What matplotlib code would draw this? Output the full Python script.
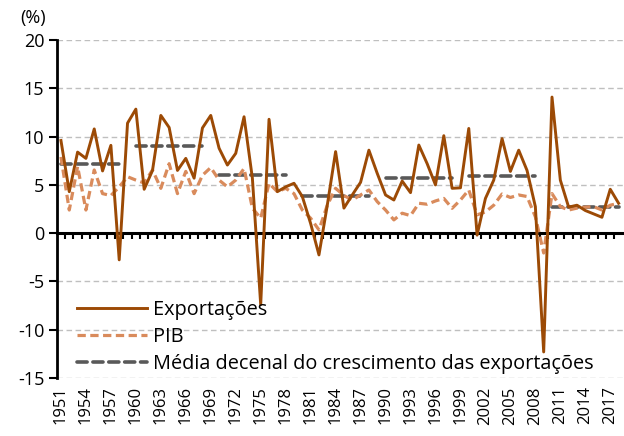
import numpy as np
import matplotlib
matplotlib.use("Agg")
import matplotlib.pyplot as plt
from matplotlib.lines import Line2D

plt.rcParams['font.family'] = ['Open Sans', 'DejaVu Sans']

years = list(range(1951, 2019))

exportacoes = [9.6, 4.3, 8.4, 7.75, 10.8, 6.45, 9.1, -2.76, 11.4, 12.85,
               4.55, 6.5, 12.2, 10.95, 6.5, 7.75, 5.7, 10.9, 12.2, 8.8,
               7.06, 8.27, 12.06, 5.7, -7.4, 11.8, 4.3, 4.8, 5.17, 3.8,
               1.0, -2.25, 2.9, 8.45, 2.6, 3.96, 5.27, 8.6, 6.2, 3.96,
               3.44, 5.4, 4.2, 9.13, 7.2, 5.0, 10.1, 4.65, 4.7, 10.85,
               -0.2, 3.6, 5.5, 9.8, 6.4, 8.6, 6.5, 2.75, -12.3, 14.1,
               5.5, 2.7, 2.9, 2.35, 2.0, 1.65, 4.55, 3.1]

pib = [7.9, 2.4, 6.9, 2.4, 6.55, 4.1, 3.9, 4.8, 5.85, 5.5,
       5.2, 6.55, 4.65, 7.2, 4.1, 6.4, 4.1, 6.0, 6.8, 5.5,
       4.8, 5.5, 6.7, 2.6, 1.55, 5.17, 4.3, 4.65, 4.1, 2.4,
       1.55, 0.34, 2.9, 4.65, 3.9, 3.44, 3.96, 4.48, 3.27, 2.4,
       1.38, 2.07, 1.82, 3.1, 3.0, 3.34, 3.6, 2.58, 3.44, 4.48,
       1.9, 2.2, 2.9, 4.06, 3.7, 3.96, 3.8, 1.7, -2.05, 4.1,
       2.75, 2.4, 2.6, 2.7, 2.75, 2.4, 2.9, 3.1]

decada_inicio = [1951, 1960, 1970, 1980, 1990, 2000, 2010]
decada_fim = [1958, 1968, 1978, 1988, 1998, 2008, 2018]
decada_media = [7.2, 9.0, 6.0, 3.9, 5.75, 5.9, 2.7]

rotulos_x = list(range(1951, 2019, 3))
yticks = list(range(-15, 21, 5))

c_exp = '#9C4A05'
c_pib = '#D98B5C'
c_med = '#595959'

fig = plt.figure(figsize=(6.24, 4.36), dpi=100)
ax = fig.add_axes([0.091, 0.133, 0.907, 0.775])

for yv in yticks:
    if yv != 0:
        ax.axhline(yv, color='#BFBFBF', lw=1.0, ls=(0, (4, 2.5)), zorder=0)

for s, e, m in zip(decada_inicio, decada_fim, decada_media):
    ax.plot([s, e], [m, m], color=c_med, lw=2.6, dashes=(2.8, 1.6),
            dash_capstyle='round', zorder=2)
ax.plot(years, pib, color=c_pib, lw=2.3, dashes=(2.6, 1.4), zorder=3)
ax.plot(years, exportacoes, color=c_exp, lw=2.1, zorder=4)

ax.set_xlim(1950.5, 2018.5)
ax.set_ylim(-15, 20)
ax.set_yticks(yticks)
ax.set_yticklabels([str(v) for v in yticks], fontsize=13)
ax.set_xticks(rotulos_x)
ax.set_xticklabels([str(v) for v in rotulos_x], rotation=90, fontsize=12)
ax.tick_params(axis='x', length=0, pad=6)
ax.tick_params(axis='y', length=6, width=1.5, direction='out', pad=3)

for sp in ['top', 'right', 'bottom']:
    ax.spines[sp].set_visible(False)
ax.spines['left'].set_linewidth(2)

# zero axis with category boundary ticks
sec = ax.secondary_xaxis(15 / 35)
fronteiras = [y + 0.5 for y in years[:-1]]
sec.set_xticks(fronteiras)
sec.set_xticklabels([])
sec.tick_params(axis='x', length=4, width=1.5, direction='out')
sec.spines['bottom'].set_linewidth(2.2)

fig.text(20 / 624, 1 - 18 / 436, '(%)', fontsize=13, ha='left', va='center')

handles = [Line2D([], [], color=c_exp, lw=2.1),
           Line2D([], [], color=c_pib, lw=2.3, dashes=(2.6, 1.4)),
           Line2D([], [], color=c_med, lw=2.6, dashes=(2.8, 1.6), dash_capstyle='round')]
labels = ['Exportações', 'PIB', 'Média decenal do crescimento das exportações']
ax.legend(handles, labels, loc='upper left', bbox_to_anchor=(77 / 624, 1 - 300 / 436),
          bbox_transform=fig.transFigure, frameon=False, fontsize=14.3,
          handlelength=3.5, handletextpad=0.35, labelspacing=0.36, borderpad=0,
          borderaxespad=0)

fig.savefig('out.png', dpi=100)
